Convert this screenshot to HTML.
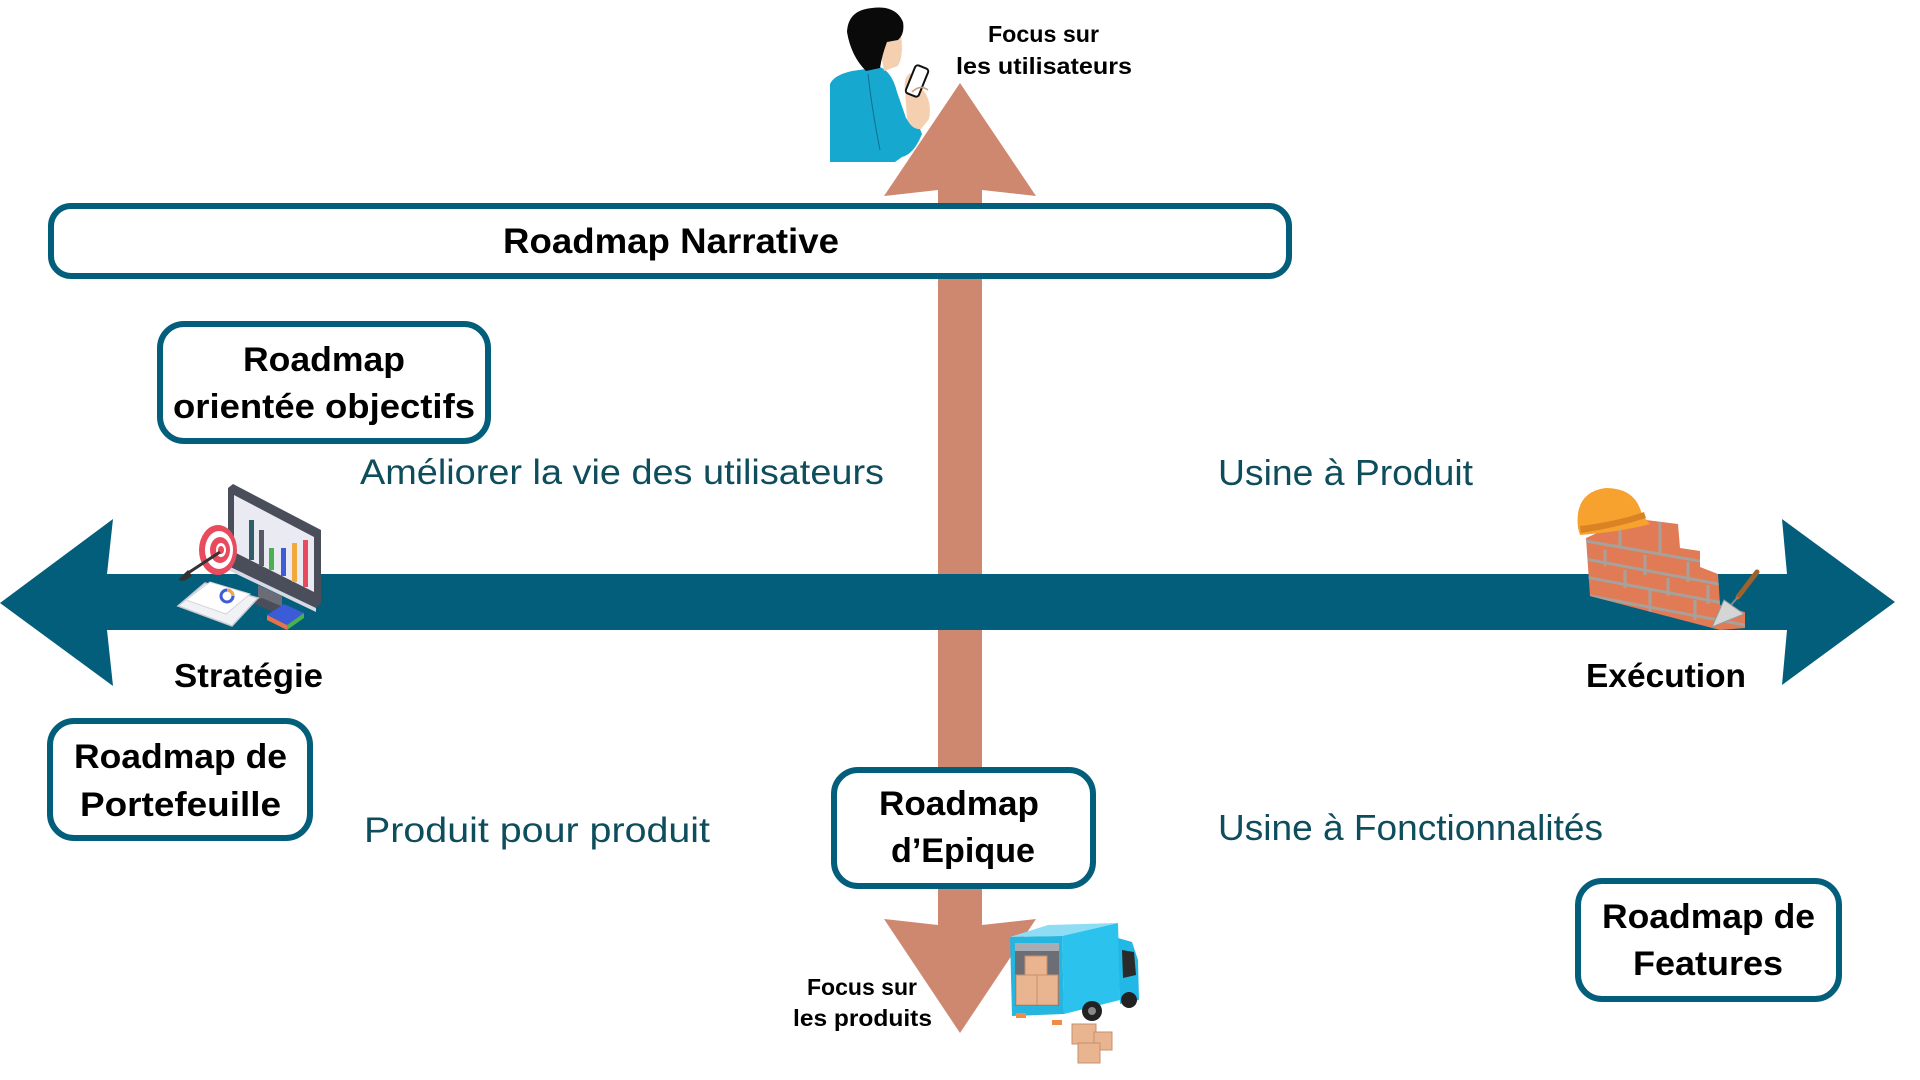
<!DOCTYPE html>
<html><head><meta charset="utf-8"><style>
html,body{margin:0;padding:0;background:#fff;width:1920px;height:1080px;overflow:hidden}
svg{display:block}
.b{font-family:"Liberation Sans",sans-serif;font-weight:bold;fill:#000}
.r{font-family:"Liberation Sans",sans-serif;fill:#0E4D5C}
</style></head><body>
<svg width="1920" height="1080" viewBox="0 0 1920 1080" xmlns="http://www.w3.org/2000/svg">
<rect width="1920" height="1080" fill="#fff"/>
<!-- vertical salmon double arrow -->
<polygon points="960,83 1036,196 982,190 982,925 1036,919 960,1033 884,919 938,925 938,190 884,196" fill="#CF8870"/>
<!-- horizontal teal double arrow -->
<polygon points="0,603 113,519 107,574 1787,574 1782,519 1895,602 1782,685 1787,630 107,630 113,686" fill="#025E7B"/>

<!-- boxes -->
<g fill="#fff" stroke="#025E7B" stroke-width="6">
<rect x="51" y="206" width="1238" height="70" rx="20"/>
<rect x="160" y="324" width="328" height="117" rx="24"/>
<rect x="50" y="721" width="260" height="117" rx="24"/>
<rect x="834" y="770" width="259" height="116" rx="24"/>
<rect x="1578" y="881" width="261" height="118" rx="24"/>
</g>

<!-- box texts -->
<text class="b" x="503" y="253" font-size="35" textLength="336" lengthAdjust="spacingAndGlyphs">Roadmap Narrative</text>
<text class="b" x="243" y="371" font-size="34" textLength="162" lengthAdjust="spacingAndGlyphs">Roadmap</text>
<text class="b" x="173" y="418" font-size="34" textLength="302" lengthAdjust="spacingAndGlyphs">orientée objectifs</text>
<text class="b" x="74" y="768" font-size="34" textLength="213" lengthAdjust="spacingAndGlyphs">Roadmap de</text>
<text class="b" x="80" y="816" font-size="34" textLength="201" lengthAdjust="spacingAndGlyphs">Portefeuille</text>
<text class="b" x="879" y="815" font-size="34" textLength="160" lengthAdjust="spacingAndGlyphs">Roadmap</text>
<text class="b" x="891" y="862" font-size="34" textLength="144" lengthAdjust="spacingAndGlyphs">d’Epique</text>
<text class="b" x="1602" y="928" font-size="34" textLength="213" lengthAdjust="spacingAndGlyphs">Roadmap de</text>
<text class="b" x="1633" y="975" font-size="34" textLength="150" lengthAdjust="spacingAndGlyphs">Features</text>

<text class="b" x="174" y="687" font-size="33" textLength="149" lengthAdjust="spacingAndGlyphs">Stratégie</text>
<text class="b" x="1586" y="687" font-size="33" textLength="160" lengthAdjust="spacingAndGlyphs">Exécution</text>

<text class="b" x="988" y="42" font-size="23" textLength="111" lengthAdjust="spacingAndGlyphs">Focus sur</text>
<text class="b" x="956" y="74" font-size="23" textLength="176" lengthAdjust="spacingAndGlyphs">les utilisateurs</text>
<text class="b" x="807" y="995" font-size="23" textLength="110" lengthAdjust="spacingAndGlyphs">Focus sur</text>
<text class="b" x="793" y="1026" font-size="23" textLength="139" lengthAdjust="spacingAndGlyphs">les produits</text>

<!-- regular teal texts -->
<text class="r" x="360" y="484" font-size="35" textLength="524" lengthAdjust="spacingAndGlyphs">Améliorer la vie des utilisateurs</text>
<text class="r" x="1218" y="485" font-size="36" textLength="255" lengthAdjust="spacingAndGlyphs">Usine à Produit</text>
<text class="r" x="364" y="842" font-size="35" textLength="346" lengthAdjust="spacingAndGlyphs">Produit pour produit</text>
<text class="r" x="1218" y="840" font-size="36" textLength="385" lengthAdjust="spacingAndGlyphs">Usine à Fonctionnalités</text>

<!-- person -->
<g>
 <path d="M830,84 Q834,75 852,71 L880,67 Q892,72 897,92 L906,118 Q912,128 918,124 L922,134 Q914,154 902,157 L895,162 L830,162 Z" fill="#17A8D0"/>
 <path d="M868,74 Q872,110 880,150" stroke="#0d6f8c" stroke-width="1" fill="none"/>
 <path d="M878,38 L901,36 Q904,55 898,66 L884,71 Z" fill="#F5D0B0"/>
 <path d="M847,32 Q848,10 872,8 Q896,5 903,22 Q905,34 898,40 L887,42 Q882,55 880,68 L866,71 Q851,56 847,32 Z" fill="#0a0a0a"/>
 <path d="M905,90 Q903,78 910,73 L926,94 Q932,106 929,119 L921,129 Q912,130 907,119 Z" fill="#F5D0B0"/>
 <rect x="910" y="66" width="14" height="30" rx="3" transform="rotate(22 917 81)" fill="#fff" stroke="#111" stroke-width="2"/>
 <path d="M912,92 Q920,84 928,90" stroke="#c9a080" stroke-width="1.5" fill="none"/>
</g>

<!-- strategy icon -->
<g>
 <polygon points="228,488 233,484 321,530 321,604 316,608 228,566" fill="#4A4D5A"/>
 <polygon points="234,495 314,537 314,592 234,552" fill="#E9EAF2"/>
 <polygon points="228,566 316,608 316,612 228,570" fill="#D8D9E2"/>
 <polygon points="258,585 282,596 282,610 258,600" fill="#6a6d78"/>
 <polygon points="250,602 290,620 300,614 262,598" fill="#4A4D5A"/>
 <rect x="249" y="520" width="5" height="40" fill="#2F5E6A"/>
 <rect x="259" y="530" width="5" height="36" fill="#555a66"/>
 <rect x="269" y="548" width="5" height="22" fill="#4CAF50"/>
 <rect x="281" y="548" width="5" height="28" fill="#3F5BD8"/>
 <rect x="292" y="543" width="5" height="39" fill="#F2A93B"/>
 <rect x="303" y="540" width="5" height="47" fill="#E94B5E"/>
 <ellipse cx="218" cy="550" rx="19" ry="25" fill="#E94B5E"/>
 <ellipse cx="219" cy="550" rx="14" ry="19" fill="#fff"/>
 <ellipse cx="220" cy="550" rx="10" ry="13" fill="#E94B5E"/>
 <ellipse cx="221" cy="550" rx="5" ry="7" fill="#fff"/>
 <ellipse cx="221" cy="550" rx="3" ry="4" fill="#E94B5E"/>
 <line x1="185" y1="575" x2="220" y2="552" stroke="#333" stroke-width="3"/>
 <polygon points="178,580 188,570 192,576 184,581" fill="#333"/>
 <polygon points="178,606 205,583 258,598 232,626" fill="#F1F2F6" stroke="#c9cad3" stroke-width="1.5"/>
 <polygon points="186,600 210,582 250,594 226,614" fill="#fff" stroke="#d5d6de" stroke-width="1"/>
 <circle cx="227" cy="596" r="6" fill="none" stroke="#3F5BD8" stroke-width="3"/>
 <path d="M227,590 A6,6 0 0 1 233,596" stroke="#F2A93B" stroke-width="3" fill="none"/>
 <polygon points="267,615 284,604 304,613 287,625" fill="#3C5BD6"/>
 <polygon points="267,615 287,625 287,630 267,620" fill="#E8734A"/>
 <polygon points="287,625 304,613 304,618 287,630" fill="#4CAF50"/>
</g>

<!-- brick wall -->
<defs>
 <clipPath id="wall"><polygon points="1586,538 1630,518 1678,524 1680,548 1700,551 1700,567 1718,574 1720,605 1745,612 1745,628 1720,630 1590,596"/></clipPath>
</defs>
<g>
 <polygon points="1586,538 1630,518 1678,524 1680,548 1700,551 1700,567 1718,574 1720,605 1745,612 1745,628 1720,630 1590,596" fill="#E07B55"/>
 <g clip-path="url(#wall)" stroke="#A8A09A" stroke-width="3" fill="none">
  <line x1="1580" y1="540" x2="1750" y2="570"/>
  <line x1="1580" y1="558" x2="1750" y2="590"/>
  <line x1="1580" y1="576" x2="1750" y2="608"/>
  <line x1="1580" y1="594" x2="1750" y2="626"/>
  <line x1="1620" y1="520" x2="1620" y2="548"/>
  <line x1="1660" y1="520" x2="1660" y2="555"/>
  <line x1="1605" y1="550" x2="1605" y2="566"/>
  <line x1="1645" y1="555" x2="1645" y2="575"/>
  <line x1="1688" y1="562" x2="1688" y2="582"/>
  <line x1="1625" y1="570" x2="1625" y2="588"/>
  <line x1="1668" y1="578" x2="1668" y2="596"/>
  <line x1="1708" y1="585" x2="1708" y2="604"/>
  <line x1="1650" y1="590" x2="1650" y2="612"/>
  <line x1="1695" y1="600" x2="1695" y2="620"/>
 </g>
 <path d="M1578,528 Q1574,492 1606,488 Q1636,488 1642,515 L1650,524 Q1620,532 1580,535 Z" fill="#F7A12E"/>
 <path d="M1580,526 Q1615,522 1644,512 L1646,518 Q1615,528 1581,533 Z" fill="#D98324"/>
 <line x1="1757" y1="572" x2="1738" y2="597" stroke="#A0622D" stroke-width="5" stroke-linecap="round"/>
 <line x1="1738" y1="597" x2="1730" y2="606" stroke="#888" stroke-width="2"/>
 <polygon points="1712,627 1744,614 1724,600" fill="#D5D5D5" stroke="#999" stroke-width="1"/>
</g>

<!-- truck -->
<g>
 <polygon points="1010,937 1048,925 1118,923 1062,936" fill="#8FDDF5"/>
 <polygon points="1062,936 1118,923 1120,1000 1064,1014" fill="#2BC3EE"/>
 <polygon points="1118,938 1132,942 1138,960 1139,1000 1120,1004" fill="#22B8E6"/>
 <polygon points="1122,950 1134,952 1136,975 1123,978" fill="#2a2a2a"/>
 <polygon points="1010,937 1062,936 1064,1014 1012,1016" fill="#25B5DF"/>
 <rect x="1015" y="943" width="44" height="63" fill="#6b6e74"/>
 <rect x="1015" y="943" width="44" height="8" fill="#a9acb2"/>
 <rect x="1025" y="956" width="22" height="20" fill="#E9B591" stroke="#C98F6C" stroke-width="1"/>
 <rect x="1016" y="975" width="21" height="30" fill="#E9B591" stroke="#C98F6C" stroke-width="1"/>
 <rect x="1037" y="975" width="21" height="30" fill="#E9B591" stroke="#C98F6C" stroke-width="1"/>
 <rect x="1016" y="1013" width="10" height="5" fill="#F28B4A"/>
 <rect x="1052" y="1020" width="10" height="5" fill="#F28B4A"/>
 <circle cx="1092" cy="1011" r="10" fill="#222"/>
 <circle cx="1092" cy="1011" r="4" fill="#888"/>
 <circle cx="1129" cy="1000" r="8" fill="#222"/>
 <rect x="1072" y="1024" width="24" height="20" fill="#E9B591" stroke="#C98F6C" stroke-width="1"/>
 <rect x="1094" y="1032" width="18" height="18" fill="#E9B591" stroke="#C98F6C" stroke-width="1"/>
 <rect x="1078" y="1043" width="22" height="20" fill="#E9B591" stroke="#C98F6C" stroke-width="1"/>
</g>
</svg>
</body></html>
